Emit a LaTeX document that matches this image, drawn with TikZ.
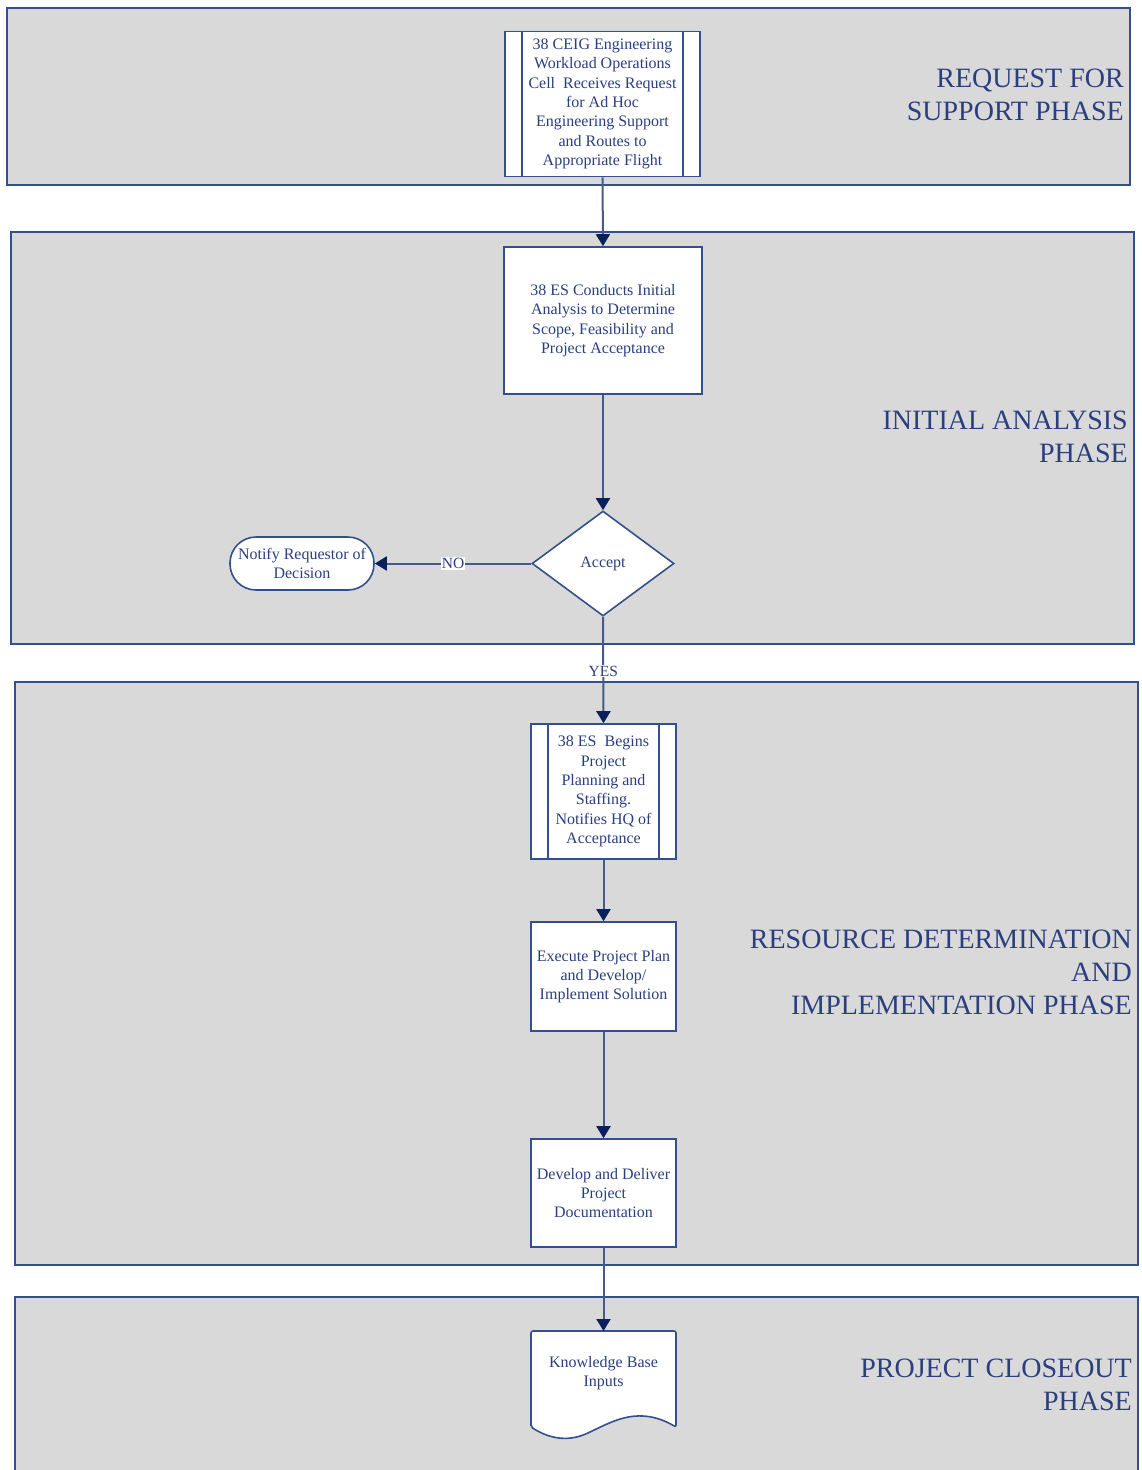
\documentclass[tikz,border=0pt]{standalone}
\usepackage{fontspec}
\setmainfont{Liberation Serif}
\usetikzlibrary{arrows.meta,shapes.geometric,calc}
\definecolor{band}{HTML}{D9D9D9}
\definecolor{edge}{HTML}{34508C}
\definecolor{ink}{HTML}{2B3F7F}
\definecolor{conn}{HTML}{46598A}
\definecolor{tip}{HTML}{0B1F5C}
\tikzset{
  phasebox/.style={fill=band,draw=edge,line width=2pt},
  procbox/.style={draw=edge,fill=white,line width=1.6pt,rectangle,inner sep=0pt,align=center,text=ink,
     font=\fontsize{16}{19.3}\selectfont},
  phaselabel/.style={anchor=east,align=right,text=ink,inner sep=0pt,font=\fontsize{28}{33}\selectfont},
  flow/.style={draw=conn,line width=2pt,-{Triangle[width=14pt,length=12pt,color=tip]}},
  edgelabel/.style={fill=white,text=ink,inner sep=1pt,font=\fontsize{15.5}{15.5}\selectfont},
}
\begin{document}
\begin{tikzpicture}[x=1pt,y=-1pt]
\useasboundingbox (0,0) rectangle (1142,1470);
% phase bands
\draw[phasebox] (7,8) rectangle (1130,185);
\draw[phasebox] (11,232) rectangle (1134,644);
\draw[phasebox] (15,682) rectangle (1138,1265);
\fill[band] (15,1297) rectangle (1138,1470);
\draw[edge,line width=2pt] (15,1470) -- (15,1297) -- (1138,1297) -- (1138,1470);
% phase labels
\node[phaselabel] (lab1) at (1124,94.5) {REQUEST FOR\\SUPPORT PHASE};
\node[phaselabel] (lab2) at (1128,436.5) {INITIAL ANALYSIS\\PHASE};
\node[phaselabel] (lab3) at (1132,972) {RESOURCE DETERMINATION\\AND\\IMPLEMENTATION PHASE};
\node[phaselabel] (lab4) at (1132,1384.5) {PROJECT CLOSEOUT\\PHASE};
% nodes
\node[procbox,minimum width=195pt,minimum height=145pt] (b1) at (602.5,104)
  {38 CEIG Engineering\\Workload Operations\\Cell\ \ Receives Request\\for Ad Hoc\\Engineering Support\\and Routes to\\Appropriate Flight};
\draw[edge,line width=1.6pt] ([xshift=18pt]b1.north west) -- ([xshift=18pt]b1.south west)
  ([xshift=-18pt]b1.north east) -- ([xshift=-18pt]b1.south east);
\node[procbox,minimum width=198pt,minimum height=147pt] (b2) at (603,320.5)
  {38 ES Conducts Initial\\Analysis to Determine\\Scope, Feasibility and\\Project Acceptance};
\node[procbox,diamond,minimum width=142pt,minimum height=105pt,inner sep=0pt] (acc) at (603,563.5) {Accept};
\node[procbox,rounded corners=26pt,minimum width=144pt,minimum height=53pt] (ntf) at (302,563.5)
  {Notify Requestor of\\Decision};
\node[procbox,minimum width=145pt,minimum height=135pt] (b3) at (603.5,791.5)
  {38 ES\ \ Begins\\Project\\Planning and\\Staffing.\\Notifies HQ of\\Acceptance};
\draw[edge,line width=1.6pt] ([xshift=18pt]b3.north west) -- ([xshift=18pt]b3.south west)
  ([xshift=-18pt]b3.north east) -- ([xshift=-18pt]b3.south east);
\node[procbox,minimum width=145pt,minimum height=109pt] (b4) at (603.5,976.5)
  {Execute Project Plan\\and Develop/\\Implement Solution};
\node[procbox,minimum width=145pt,minimum height=108pt] (b5) at (603.5,1193)
  {Develop and Deliver\\Project\\Documentation};
% document shape
\draw[edge,fill=white,line width=1.6pt,rounded corners=2pt] (531,1427) -- (531,1331) -- (676,1331) -- (676,1427)
  .. controls (640,1406) and (615,1420) .. (590,1432)
  .. controls (565,1444) and (545,1436) .. (531,1427) -- cycle;
\coordinate (kbtop) at (603.5,1331);
\node[procbox,draw=none,fill=none] (kb) at (603.5,1373)
  {Knowledge Base\\Inputs};
% connectors
\draw[flow] (b1.south) -- (b2.north);
\draw[flow] (b2.south) -- (acc.north);
\draw[flow] (acc.west) -- node[edgelabel]{NO} (ntf.east);
\draw[flow] (acc.south) -- node[edgelabel,pos=0.51]{YES} (b3.north);
\draw[flow] (b3.south) -- (b4.north);
\draw[flow] (b4.south) -- (b5.north);
\draw[flow] (b5.south) -- (kbtop);
\end{tikzpicture}
\end{document}
